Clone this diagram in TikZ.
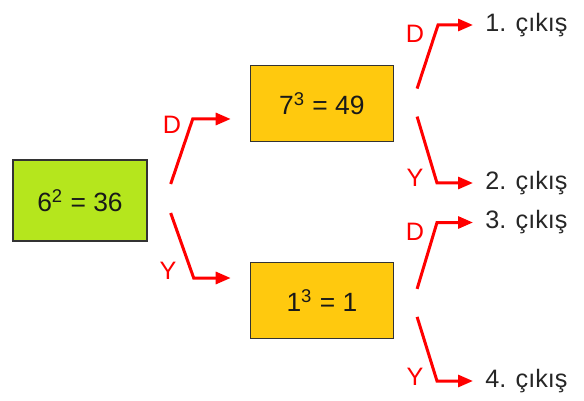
\documentclass[tikz,border=0pt]{standalone}
\usepackage{fontspec}
\setmainfont{Liberation Sans}
\usetikzlibrary{arrows.meta,positioning}
\definecolor{limegreen}{RGB}{181,230,29}
\definecolor{gold}{RGB}{255,201,14}

\begin{document}
\begin{tikzpicture}[
    x=0.5pt, y=-0.5pt,
    every node/.style={font=\fontsize{12.6}{15}\selectfont},
    box/.style={draw=black!80, line width=0.7pt, align=center, minimum width=71.5pt, minimum height=38pt, fill=gold, text=black!90, font=\fontsize{13.2}{16}\selectfont},
    branch/.style={-{Triangle[length=7.5pt, width=6pt]}, red, line width=1.5pt},
    choice/.style={text=red, inner sep=0pt},
    exitlabel/.style={anchor=west, inner xsep=6pt, inner ysep=0pt, text=black!85}
]
\useasboundingbox (0,0) rectangle (584,401);
\node[box, fill=limegreen, minimum width=67pt, minimum height=40.5pt] (root) at (80,200.5) {6\textsuperscript{2} = 36};
\node[box, above right=8.5pt and 51pt of root] (upper) {7\textsuperscript{3} = 49};
\node[box, below right=10pt and 51pt of root] (lower) {1\textsuperscript{3} = 1};
\node[exitlabel] (out1) at (473,25) {1. çıkış};
\node[exitlabel] (out2) at (473,183) {2. çıkış};
\node[exitlabel] (out3) at (473,222.5) {3. çıkış};
\node[exitlabel] (out4) at (473,381) {4. çıkış};
% branch ends
\coordinate (rootDs) at ([shift={(23,-16.5)}]root.east);
\coordinate (rootDb) at ([shift={(45,-81.5)}]root.east);
\coordinate (rootYs) at ([shift={(23,12.5)}]root.east);
\coordinate (rootYb) at ([shift={(46,77.5)}]root.east);
\coordinate (upperDs) at ([shift={(23,-15)}]upper.east);
\coordinate (upperDb) at ([xshift=-17.5pt]out1.west);
\coordinate (upperYs) at ([shift={(23,13)}]upper.east);
\coordinate (upperYb) at ([xshift=-18pt]out2.west);
\coordinate (lowerDs) at ([shift={(23,-11.5)}]lower.east);
\coordinate (lowerDb) at ([xshift=-18pt]out3.west);
\coordinate (lowerYs) at ([shift={(23,16.5)}]lower.east);
\coordinate (lowerYb) at ([xshift=-18pt]out4.west);
\draw[branch, shorten >=9.5pt] (rootDs) -- (rootDb) -- (rootDb -| upper.west);
\draw[branch, shorten >=9.5pt] (rootYs) -- (rootYb) -- (rootYb -| lower.west);
\draw[branch] (upperDs) -- (upperDb) -- (out1);
\draw[branch] (upperYs) -- (upperYb) -- (out2);
\draw[branch] (lowerDs) -- (lowerDb) -- (out3);
\draw[branch] (lowerYs) -- (lowerYb) -- (out4);
\node[choice] (rootD) at (172,125) {D};
\node[choice] (rootY) at (168,271) {Y};
\node[choice] (upperD) at (415,33.5) {D};
\node[choice] (upperY) at (415,177.5) {Y};
\node[choice] (lowerD) at (415,231.5) {D};
\node[choice] (lowerY) at (415,377) {Y};
\end{tikzpicture}
\end{document}
